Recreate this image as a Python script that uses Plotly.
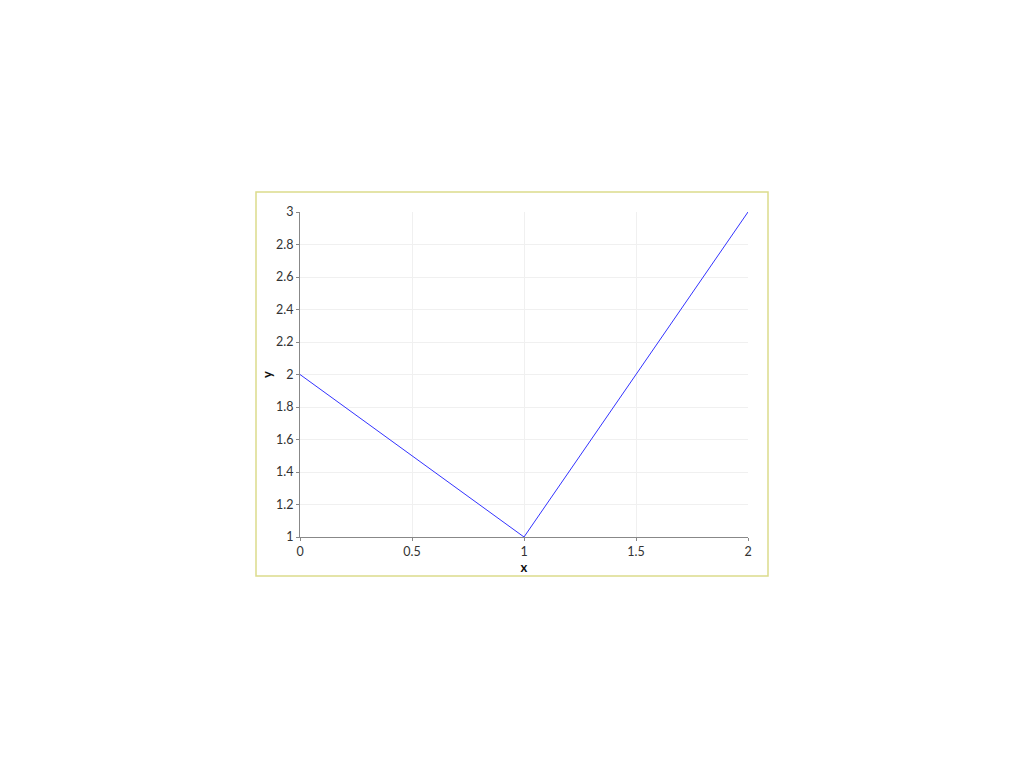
import plotly.graph_objects as go

# datos
x_vals = [0, 1, 2]
y_vals = [2, 1, 3]

x_ticks = [0, 0.5, 1, 1.5, 2]
y_ticks = [1, 1.2, 1.4, 1.6, 1.8, 2, 2.2, 2.4, 2.6, 2.8, 3]

FUENTE = "Century Gothic, Lato, DejaVu Sans, sans-serif"

fig = go.Figure()
fig.add_trace(go.Scatter(
    x=x_vals, y=y_vals, mode="lines",
    line=dict(color="#3333ff", width=1),
    showlegend=False,
))

eje = dict(
    showline=True, linecolor="#888888", linewidth=1,
    ticks="outside", ticklen=3, tickcolor="#888888",
    showgrid=True, gridcolor="#f0f0f0", gridwidth=1,
    zeroline=False,
    tickfont=dict(size=12.5, color="#333333"),
)

fig.update_xaxes(
    **eje, range=[0, 2], tickvals=x_ticks,
    title=dict(text="<b>x</b>", font=dict(size=13, color="#111111"), standoff=0),
)
fig.update_yaxes(
    **eje, range=[1, 3], tickvals=y_ticks,
    title=dict(text="<b>y</b>", font=dict(size=13, color="#111111"), standoff=0),
)

# marco del gráfico (en coordenadas paper relativas al área de trazado)
fig.add_shape(
    type="rect", xref="paper", yref="paper",
    x0=(256 - 300) / 448, x1=(768 - 300) / 448,
    y0=(537 - 576) / 325, y1=(537 - 192) / 325,
    line=dict(color="#dcdc8c", width=1.5),
)

# la página añade 8 px de margen al cuerpo
fig.update_layout(
    width=1008, height=752,
    margin=dict(l=292, r=268, t=204, b=223),
    plot_bgcolor="white", paper_bgcolor="white",
    font=dict(family=FUENTE),
)

fig.write_html("out.html")
